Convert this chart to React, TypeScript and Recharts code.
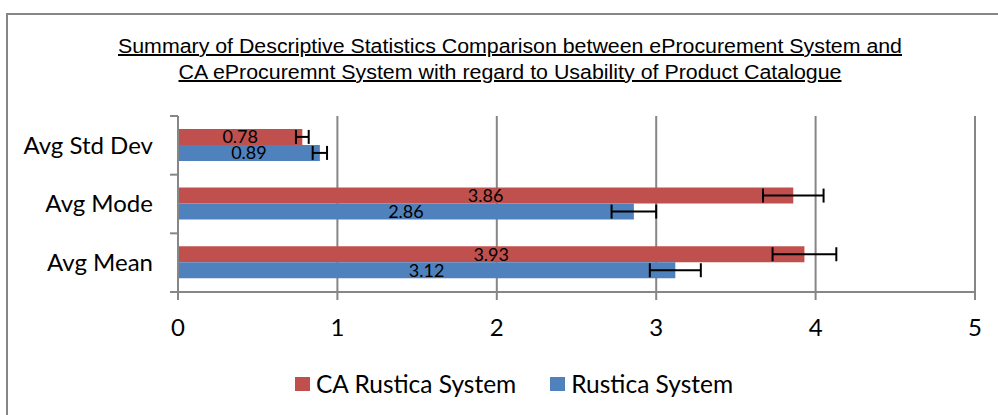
import { BarChart, Bar, XAxis, YAxis, CartesianGrid, Legend, LabelList, ErrorBar } from 'recharts';

const categories = ['Avg Std Dev', 'Avg Mode', 'Avg Mean'];
const caRustica = [0.78, 3.86, 3.93];
const rustica = [0.89, 2.86, 3.12];
// error bar half-widths
const caRusticaErr = [0.04, 0.19, 0.2];
const rusticaErr = [0.045, 0.14, 0.16];
const xTicks = [0, 1, 2, 3, 4, 5];

const data = categories.map((name, i) => ({
  name,
  ca: caRustica[i],
  caErr: caRusticaErr[i],
  ru: rustica[i],
  ruErr: rusticaErr[i],
}));

const AXIS = '#868686';
const FONT = 'Lato, sans-serif';

// Excel puts category tick marks between categories, so draw them at band edges
function CategoryTick(props: any) {
  const { x, y, payload, index, visibleTicksCount } = props;
  const half = payload.offset || 0;
  return (
    <g>
      <line x1={x - 8} x2={x} y1={y - half} y2={y - half} stroke={AXIS} strokeWidth={2} />
      {index === visibleTicksCount - 1 && (
        <line x1={x - 8} x2={x} y1={y + half} y2={y + half} stroke={AXIS} strokeWidth={2} />
      )}
      <text x={x - 25} y={y} dy="0.35em" textAnchor="end" fill="#000" fontSize={24} fontFamily={FONT}>
        {payload.value}
      </text>
    </g>
  );
}

function LegendContent(props: any) {
  const { payload } = props;
  return (
    <div style={{ display: 'flex', alignItems: 'center', fontFamily: FONT, fontSize: 24.5, color: '#000' }}>
      {payload.map((entry: any) => (
        <div key={entry.value} style={{ display: 'flex', alignItems: 'center', marginRight: 34 }}>
          <span style={{ display: 'inline-block', width: 15, height: 14, background: entry.color, marginRight: 6 }} />
          <span>{entry.value}</span>
        </div>
      ))}
    </div>
  );
}

export default function App() {
  return (
    <div style={{ position: 'absolute', left: 0, top: 0, width: 998, height: 415, background: '#fff', overflow: 'hidden' }}>
      <div
        style={{
          position: 'absolute',
          left: 6,
          top: 13,
          width: 1000,
          height: 420,
          borderLeft: `2px solid ${AXIS}`,
          borderTop: `2px solid ${AXIS}`,
        }}
      />
      <svg width={998} height={100} style={{ position: 'absolute', left: 0, top: 0 }}>
        <text
          x={510}
          y={53}
          textAnchor="middle"
          fontFamily="'Liberation Sans', Arial, sans-serif"
          fontSize={20}
          textLength={784}
          lengthAdjust="spacingAndGlyphs"
          style={{ textDecoration: 'underline' }}
          fill="#000"
        >
          Summary of Descriptive Statistics Comparison between eProcurement System and
        </text>
        <text
          x={510}
          y={79}
          textAnchor="middle"
          fontFamily="'Liberation Sans', Arial, sans-serif"
          fontSize={20}
          textLength={663}
          lengthAdjust="spacingAndGlyphs"
          style={{ textDecoration: 'underline' }}
          fill="#000"
        >
          CA eProcuremnt System with regard to Usability of Product Catalogue
        </text>
      </svg>
      <div style={{ position: 'absolute', left: 0, top: 0 }}>
        <BarChart
          width={998}
          height={415}
          data={data}
          layout="vertical"
          margin={{ top: 116, right: 23, left: 0, bottom: 83 }}
          barCategoryGap="22%"
          barGap={0}
        >
          <CartesianGrid horizontal={false} stroke={AXIS} strokeWidth={2} />
          <XAxis
            type="number"
            domain={[0, 5]}
            ticks={xTicks}
            height={40}
            axisLine={{ stroke: AXIS, strokeWidth: 2 }}
            tickLine={{ stroke: AXIS, strokeWidth: 2 }}
            tickSize={8}
            tickMargin={19}
            tick={{ fill: '#000', fontSize: 24, fontFamily: FONT }}
          />
          <YAxis
            type="category"
            dataKey="name"
            width={178}
            axisLine={{ stroke: AXIS, strokeWidth: 2 }}
            tickLine={false}
            tickSize={0}
            tickMargin={0}
            tick={<CategoryTick />}
          />
          <Legend
            verticalAlign="middle"
            align="center"
            content={<LegendContent />}
            wrapperStyle={{ top: 369, left: 295, width: 600 }}
          />
          <Bar dataKey="ca" name="CA Rustica System" fill="#C0504D" isAnimationActive={false}>
            <LabelList dataKey="ca" position="center" fill="#000" fontSize={18} fontFamily={FONT} />
            <ErrorBar dataKey="caErr" direction="x" width={7} stroke="#000" strokeWidth={2} />
          </Bar>
          <Bar dataKey="ru" name="Rustica System" fill="#4F81BD" isAnimationActive={false}>
            <LabelList dataKey="ru" position="center" fill="#000" fontSize={18} fontFamily={FONT} />
            <ErrorBar dataKey="ruErr" direction="x" width={7} stroke="#000" strokeWidth={2} />
          </Bar>
        </BarChart>
      </div>
    </div>
  );
}
